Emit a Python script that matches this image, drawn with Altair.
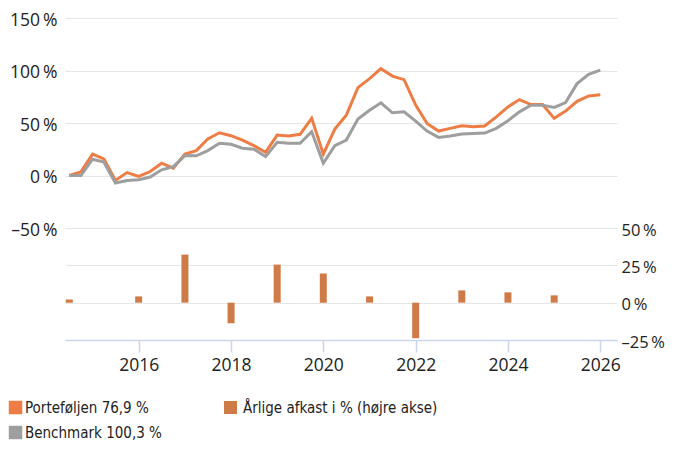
import altair as alt
import pandas as pd

# ---- data ----
quarter_dates = [
    "2014-07-01", "2014-10-01",
    "2015-01-01", "2015-04-01", "2015-07-01", "2015-10-01",
    "2016-01-01", "2016-04-01", "2016-07-01", "2016-10-01",
    "2017-01-01", "2017-04-01", "2017-07-01", "2017-10-01",
    "2018-01-01", "2018-04-01", "2018-07-01", "2018-10-01",
    "2019-01-01", "2019-04-01", "2019-07-01", "2019-10-01",
    "2020-01-01", "2020-04-01", "2020-07-01", "2020-10-01",
    "2021-01-01", "2021-04-01", "2021-07-01", "2021-10-01",
    "2022-01-01", "2022-04-01", "2022-07-01", "2022-10-01",
    "2023-01-01", "2023-04-01", "2023-07-01", "2023-10-01",
    "2024-01-01", "2024-04-01", "2024-07-01", "2024-10-01",
    "2025-01-01", "2025-04-01", "2025-07-01", "2025-10-01",
    "2026-01-01",
]
portfolio = [
    0.0, 3.5,
    20.3, 15.8, -4.7, 2.8,
    -0.9, 3.8, 11.7, 7.0,
    20.5, 23.7, 34.8, 40.7,
    37.9, 33.6, 28.4, 22.1,
    38.5, 37.6, 39.2, 54.4,
    20.3, 44.2, 57.5, 83.7,
    92.2, 101.7, 94.7, 91.3,
    67.0, 49.6, 42.3, 44.9,
    47.3, 46.4, 47.1, 55.9,
    65.3, 72.3, 67.6, 67.6,
    54.4, 61.3, 70.7, 75.8,
    76.9,
]
benchmark = [
    0.0, 0.0,
    15.5, 12.7, -7.2, -4.7,
    -4.1, -1.5, 5.4, 8.5,
    19.0, 18.7, 23.7, 30.7,
    29.7, 26.0, 25.0, 18.0,
    31.6, 30.7, 30.7, 41.7,
    11.7, 28.4, 33.8, 53.7,
    62.2, 69.2, 59.7, 60.6,
    51.8, 42.3, 36.3, 37.6,
    39.5, 40.1, 40.4, 44.9,
    52.1, 60.6, 67.0, 67.0,
    64.8, 69.5, 87.5, 96.3,
    100.3,
]
bar_dates = ["2014-07-01", "2016-01-01", "2017-01-01", "2018-01-01", "2019-01-01",
             "2020-01-01", "2021-01-01", "2022-01-01", "2023-01-01", "2024-01-01",
             "2025-01-01"]
bar_values = [2.2, 4.2, 32.2, -13.8, 25.5, 19.5, 4.2, -23.8, 8.2, 6.9, 4.9]

series_names = ["Porteføljen 76,9 %", "Benchmark 100,3 %"]
bar_name = "Årlige afkast i % (højre akse)"
tick_years = [2016, 2018, 2020, 2022, 2024, 2026]
left_ticks = [-50, 0, 50, 100, 150]
right_ticks = [-25, 0, 25, 50]

line_colors = ["#EE7D45", "#9E9E9E"]
bar_color = "#CF7B48"

lines_df = pd.DataFrame({
    "date": quarter_dates * 2,
    "value": portfolio + benchmark,
    "series": [series_names[0]] * len(quarter_dates) + [series_names[1]] * len(quarter_dates),
})
bars_df = pd.DataFrame({"date": bar_dates, "value": bar_values, "label": bar_name})

AXIS_FONT = "Open Sans"
LEG_FONT = "'DejaVu Sans Condensed', 'DejaVu Sans'"
TXT = "#222222"
PCT_LABEL = "(datum.value < 0 ? '\u2013' + format(-datum.value, 'd') : format(datum.value, 'd')) + '\u2009%'"

x_enc = alt.X(
    "date:T",
    scale=alt.Scale(
        type="utc",
        padding=0,
        domain=[alt.DateTime(year=2014, month=5, date=28, utc=True),
                alt.DateTime(year=2026, month=5, date=13, utc=True)],
    ),
    axis=alt.Axis(
        title=None,
        values=[alt.DateTime(year=y, month=1, date=1, utc=True) for y in tick_years],
        labelExpr="utcFormat(datum.value, '%Y')",
        grid=False,
        domainColor="#ccd6eb",
        domainWidth=1.5,
        tickColor="#ccd6eb",
        tickWidth=1.5,
        tickSize=12,
        labelPadding=4,
        labelFont=AXIS_FONT,
        labelFontSize=17.5,
        labelColor=TXT,
    ),
)

lines = alt.Chart(lines_df).mark_line(strokeWidth=3).encode(
    x=x_enc,
    y=alt.Y(
        "value:Q",
        scale=alt.Scale(domain=[-50, 150], range=[210, 0], nice=False, zero=False),
        axis=alt.Axis(
            orient="left",
            title=None,
            values=left_ticks,
            labelExpr=PCT_LABEL,
            grid=True,
            gridColor="#e6e6e6",
            gridWidth=1.2,
            domain=False,
            ticks=False,
            labelPadding=8,
            labelOffset=2,
            labelFont=AXIS_FONT,
            labelFontSize=17.5,
            labelColor=TXT,
        ),
    ),
    color=alt.Color(
        "series:N",
        sort=series_names,
        scale=alt.Scale(domain=series_names, range=line_colors),
        legend=alt.Legend(
            title=None,
            orient="none",
            legendX=-57,
            legendY=382,
            direction="vertical",
            symbolType="square",
            symbolSize=42,
            symbolStrokeWidth=7,
            labelFont=LEG_FONT,
            labelFontSize=15,
            labelColor=TXT,
            labelOffset=2,
            rowPadding=-10,
        ),
    ),
)

bars = alt.Chart(bars_df).mark_bar(size=7).encode(
    x=x_enc,
    y=alt.Y(
        "value:Q",
        scale=alt.Scale(domain=[-25, 50], range=[322, 210], nice=False),
        axis=alt.Axis(
            orient="right",
            title=None,
            values=right_ticks,
            labelExpr=PCT_LABEL,
            grid=True,
            gridColor="#e6e6e6",
            gridWidth=1.2,
            domain=False,
            ticks=False,
            labelPadding=4,
            labelOffset=2,
            labelFont=AXIS_FONT,
            labelFontSize=16.5,
            labelColor=TXT,
        ),
    ),
    fill=alt.Fill(
        "label:N",
        scale=alt.Scale(domain=[bar_name], range=[bar_color]),
        legend=alt.Legend(
            title=None,
            orient="none",
            legendX=158,
            legendY=382,
            symbolType="square",
            symbolSize=169,
            symbolStrokeWidth=0,
            labelFont=LEG_FONT,
            labelFontSize=15,
            labelColor=TXT,
            labelOffset=5,
            labelLimit=400,
        ),
    ),
)

chart = alt.layer(bars, lines).resolve_scale(
    y="independent", color="independent", fill="independent"
).resolve_axis(y="independent").properties(
    width=552,
    height=322,
    autosize=alt.AutoSizeParams(type="none"),
    padding={"left": 57, "top": 10, "right": 49, "bottom": 103},
).configure_view(stroke=None)

chart.save("out.html", embed_options={"renderer": "svg", "actions": False})
